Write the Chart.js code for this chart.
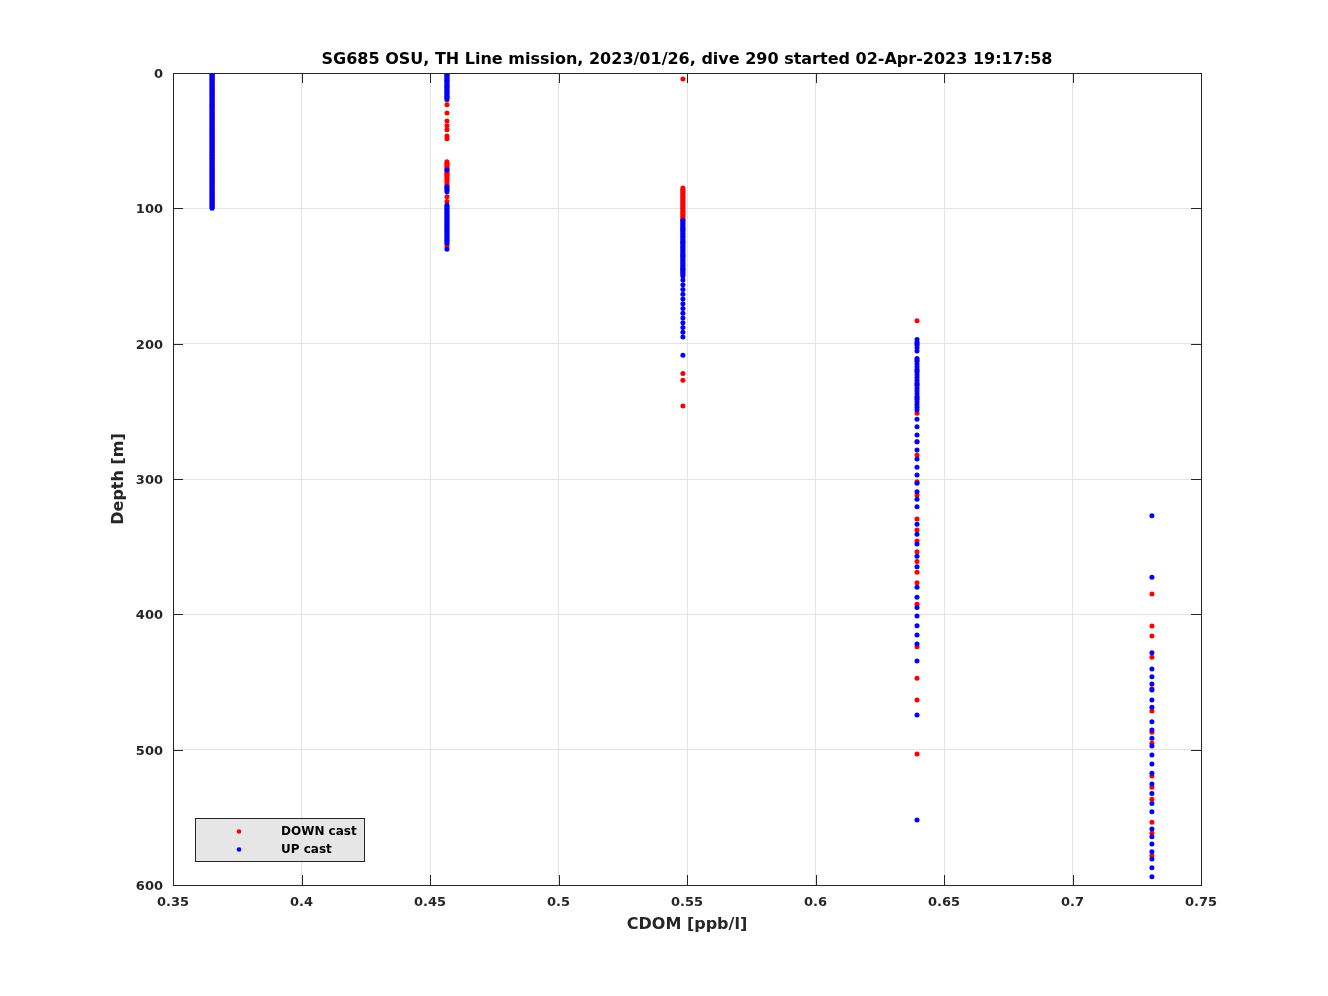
<!DOCTYPE html>
<html>
<head>
<meta charset="utf-8">
<script src="https://cdn.jsdelivr.net/npm/chart.js@4/dist/chart.umd.min.js"></script>
<style>
  html, body { margin: 0; padding: 0; background: #ffffff; }
  #lienzo { display: block; }
</style>
</head>
<body>
<canvas id="lienzo" width="1328" height="996"></canvas>
<script>
"use strict";

// CDOM levels (the sensor only reports a handful of discrete values)
const cdomLevels = [0.3652, 0.4566, 0.5484, 0.6395, 0.7309];

// Depths [m] of the DOWN cast, one list per CDOM level
const downDepths = [
  [1, 3, 5, 7, 9, 11, 13, 15, 17, 19, 21, 23, 25, 27, 29, 31, 33, 35, 37, 39, 41, 43, 45, 47, 49,
   51, 53, 55, 57, 59, 61, 63, 65, 67, 69, 71, 73, 75, 77, 79, 81, 83, 85, 87, 89, 91, 93, 95, 97, 99],
  [2, 6, 10, 14, 18, 20, 23.5, 29.5, 35.5, 39, 42, 46.5, 48.5,
   65.5, 66.5, 67.5, 68.5, 69.5, 70.5, 71.5, 73, 74, 75, 76, 77, 78.5, 79.5, 81, 82.5, 84,
   91.5, 95, 127, 128.5],
  [4.5, 85, 86, 87, 88, 89, 90, 91, 92, 93, 94, 95, 96, 97, 98, 99, 100, 101, 102, 103, 104,
   105, 106, 107, 108, 109, 115, 125, 135, 145, 222, 227, 246],
  [183, 200, 212, 220, 230, 240, 251.5, 272.4, 282.3, 302, 311.8, 329.6, 337.7, 345.8, 353.7,
   361, 368.9, 376.6, 392.6, 424, 447.3, 463.3, 503.2],
  [385, 408.6, 416, 431.8, 454.9, 471.4, 487.2, 495.3, 519.5, 527.8, 536.7, 553.7, 561.8, 578.4]
];

// Depths [m] of the UP cast, one list per CDOM level
const upDepths = [
  [0, 1, 2, 3, 4, 5, 6, 7, 8, 9, 10, 11, 12, 13, 14, 15, 16, 17, 18, 19, 20, 21, 22, 23, 24, 25,
   26, 27, 28, 29, 30, 31, 32, 33, 34, 35, 36, 37, 38, 39, 40, 41, 42, 43, 44, 45, 46, 47, 48, 49, 50,
   51, 52, 53, 54, 55, 56, 57, 58, 59, 60, 61, 62, 63, 64, 65, 66, 67, 68, 69, 70, 71, 72, 73, 74, 75,
   76, 77, 78, 79, 80, 81, 82, 83, 84, 85, 86, 87, 88, 89, 90, 91, 92, 93, 94, 95, 96, 97, 98, 99, 100],
  [0, 1, 2, 3, 4, 5, 6, 7, 8, 9, 10, 11, 12, 13, 14, 15, 16, 17, 18, 19, 71.7, 84, 85.5, 86.5, 87.7,
   97.5, 98.5, 99.5, 100.5, 101.5, 102.5, 103.5, 104.5, 105.5, 106.5, 107.5, 108.5, 109.5, 110.5,
   111.5, 112.5, 113.5, 114.5, 115.5, 116.5, 117.5, 118.5, 119.5, 120.5, 121.5, 122.5, 123.5,
   124.5, 125.8, 130.3],
  [109, 110, 111, 112, 113, 114, 115, 116, 117, 118, 119, 120, 121, 122, 123, 124, 125, 126, 127,
   128, 129, 130, 131, 132, 133, 134, 135, 136, 137, 138, 139, 140, 141, 142, 143, 144, 145, 146,
   147, 148, 149, 150, 153, 156.5, 160, 163.5, 167, 170.5, 174, 177.5, 181, 184.5, 188, 191.5, 195,
   208.5],
  [197, 199, 201, 203, 205.5, 211, 213, 215, 217, 219, 221, 223, 225, 227, 229, 231, 233, 235, 237,
   239, 241, 243, 245, 247, 249, 255.9, 261.3, 267.5, 272.4, 278.6, 285.2, 291.4, 297, 303.2,
   309.4, 315, 320.5, 333.5, 340.9, 348, 357, 364.8, 380, 387.4, 395, 401.2, 408.4, 415.3, 422,
   434.5, 474.4, 552],
  [327.1, 372.6, 428.3, 440.4, 446.1, 451.5, 455.9, 463.3, 468.7, 479.3, 485.5, 491.6, 497.3,
   503.9, 510.6, 517.5, 525.4, 532.3, 539.7, 545.8, 558.6, 564.3, 569.7, 575.4, 580.8, 587.2, 593.9]
];

const seriesNames = ["DOWN cast", "UP cast"];
const xTickValues = [0.35, 0.4, 0.45, 0.5, 0.55, 0.6, 0.65, 0.7, 0.75];
const xTickLabels = ["0.35", "0.4", "0.45", "0.5", "0.55", "0.6", "0.65", "0.7", "0.75"];
const yTickValues = [0, 100, 200, 300, 400, 500, 600];
const yTickLabels = ["0", "100", "200", "300", "400", "500", "600"];

const titulo = "SG685 OSU, TH Line mission, 2023/01/26, dive 290 started 02-Apr-2023 19:17:58";
const tituloX = "CDOM [ppb/l]";
const tituloY = "Depth [m]";

const FUENTE = "'DejaVu Sans', sans-serif";

function puntos(listas) {
  const salida = [];
  listas.forEach((lista, i) => {
    lista.forEach((d) => salida.push({ x: cdomLevels[i], y: d }));
  });
  return salida;
}

// Caja, ticks hacia dentro, titulos y leyenda al estilo MATLAB
const marcoPlugin = {
  id: "marco",
  afterDraw(chart) {
    const ctx = chart.ctx;
    const a = chart.chartArea;
    const sx = chart.scales.x;
    const sy = chart.scales.y;
    const largo = 10;

    ctx.save();
    ctx.strokeStyle = "#262626";
    ctx.lineWidth = 1;
    ctx.beginPath();
    xTickValues.forEach((v) => {
      const px = Math.round(sx.getPixelForValue(v)) + 0.5;
      ctx.moveTo(px, a.bottom); ctx.lineTo(px, a.bottom - largo);
      ctx.moveTo(px, a.top); ctx.lineTo(px, a.top + largo);
    });
    yTickValues.forEach((v) => {
      const py = Math.round(sy.getPixelForValue(v)) + 0.5;
      ctx.moveTo(a.left, py); ctx.lineTo(a.left + largo, py);
      ctx.moveTo(a.right, py); ctx.lineTo(a.right - largo, py);
    });
    ctx.stroke();
    ctx.strokeRect(Math.round(a.left) + 0.5, Math.round(a.top) + 0.5,
      Math.round(a.right - a.left), Math.round(a.bottom - a.top));

    const cx = (a.left + a.right) / 2;
    ctx.fillStyle = "#000000";
    ctx.textAlign = "center";
    ctx.textBaseline = "middle";
    ctx.font = "bold 16px " + FUENTE;
    ctx.fillText(titulo, cx, a.top - 13);

    ctx.fillStyle = "#262626";
    ctx.fillText(tituloX, cx, a.bottom + 40);
    ctx.save();
    ctx.translate(a.left - 54, (a.top + a.bottom) / 2);
    ctx.rotate(-Math.PI / 2);
    ctx.fillText(tituloY, 0, 0);
    ctx.restore();

    // Leyenda
    const lx = a.left + 22, ly = a.bottom - 67, lw = 169, lh = 43;
    ctx.fillStyle = "#e6e6e6";
    ctx.fillRect(lx, ly, lw, lh);
    ctx.strokeStyle = "#262626";
    ctx.strokeRect(lx + 0.5, ly + 0.5, lw, lh);
    ctx.font = "bold 12px " + FUENTE;
    ctx.textAlign = "left";
    chart.data.datasets.forEach((ds, i) => {
      const yy = ly + 13.5 + i * 18;
      ctx.fillStyle = ds.backgroundColor;
      ctx.beginPath();
      ctx.arc(lx + 44, yy, 2.3, 0, Math.PI * 2);
      ctx.fill();
      ctx.fillStyle = "#000000";
      ctx.fillText(seriesNames[i], lx + 86, yy);
    });
    ctx.restore();
  },
};

const lienzo = document.getElementById("lienzo").getContext("2d");

const grafico = new Chart(lienzo, {
  type: "scatter",
  data: {
    datasets: [
      {
        label: seriesNames[0],
        data: puntos(downDepths),
        backgroundColor: "#ff0000",
        borderColor: "#ff0000",
        pointRadius: 2.5,
        pointBorderWidth: 0,
        order: 2,
      },
      {
        label: seriesNames[1],
        data: puntos(upDepths),
        backgroundColor: "#0000ff",
        borderColor: "#0000ff",
        pointRadius: 2.5,
        pointBorderWidth: 0,
        order: 1,
      },
    ],
  },
  options: {
    responsive: false,
    animation: false,
    events: [],
    layout: { padding: { top: 73, right: 127, left: 0, bottom: 0 } },
    plugins: {
      legend: { display: false },
      title: { display: false },
      tooltip: { enabled: false },
    },
    scales: {
      x: {
        type: "linear",
        min: 0.35,
        max: 0.75,
        afterBuildTicks: (s) => { s.ticks = xTickValues.map((v) => ({ value: v })); },
        afterFit: (s) => { s.height = 111; },
        ticks: {
          padding: 10,
          color: "#262626",
          font: { family: FUENTE, size: 13, weight: "bold" },
          callback: (v, i) => xTickLabels[i],
        },
        grid: { color: "#e3e3e3", drawTicks: false },
        border: { display: false },
      },
      y: {
        type: "linear",
        reverse: true,
        min: 0,
        max: 600,
        afterBuildTicks: (s) => { s.ticks = yTickValues.map((v) => ({ value: v })); },
        afterFit: (s) => { s.width = 173; },
        ticks: {
          padding: 10,
          labelOffset: 1.5,
          color: "#262626",
          font: { family: FUENTE, size: 13, weight: "bold" },
          callback: (v, i) => yTickLabels[i],
        },
        grid: { color: "#e3e3e3", drawTicks: false },
        border: { display: false },
      },
    },
  },
  plugins: [marcoPlugin],
});
</script>
</body>
</html>
